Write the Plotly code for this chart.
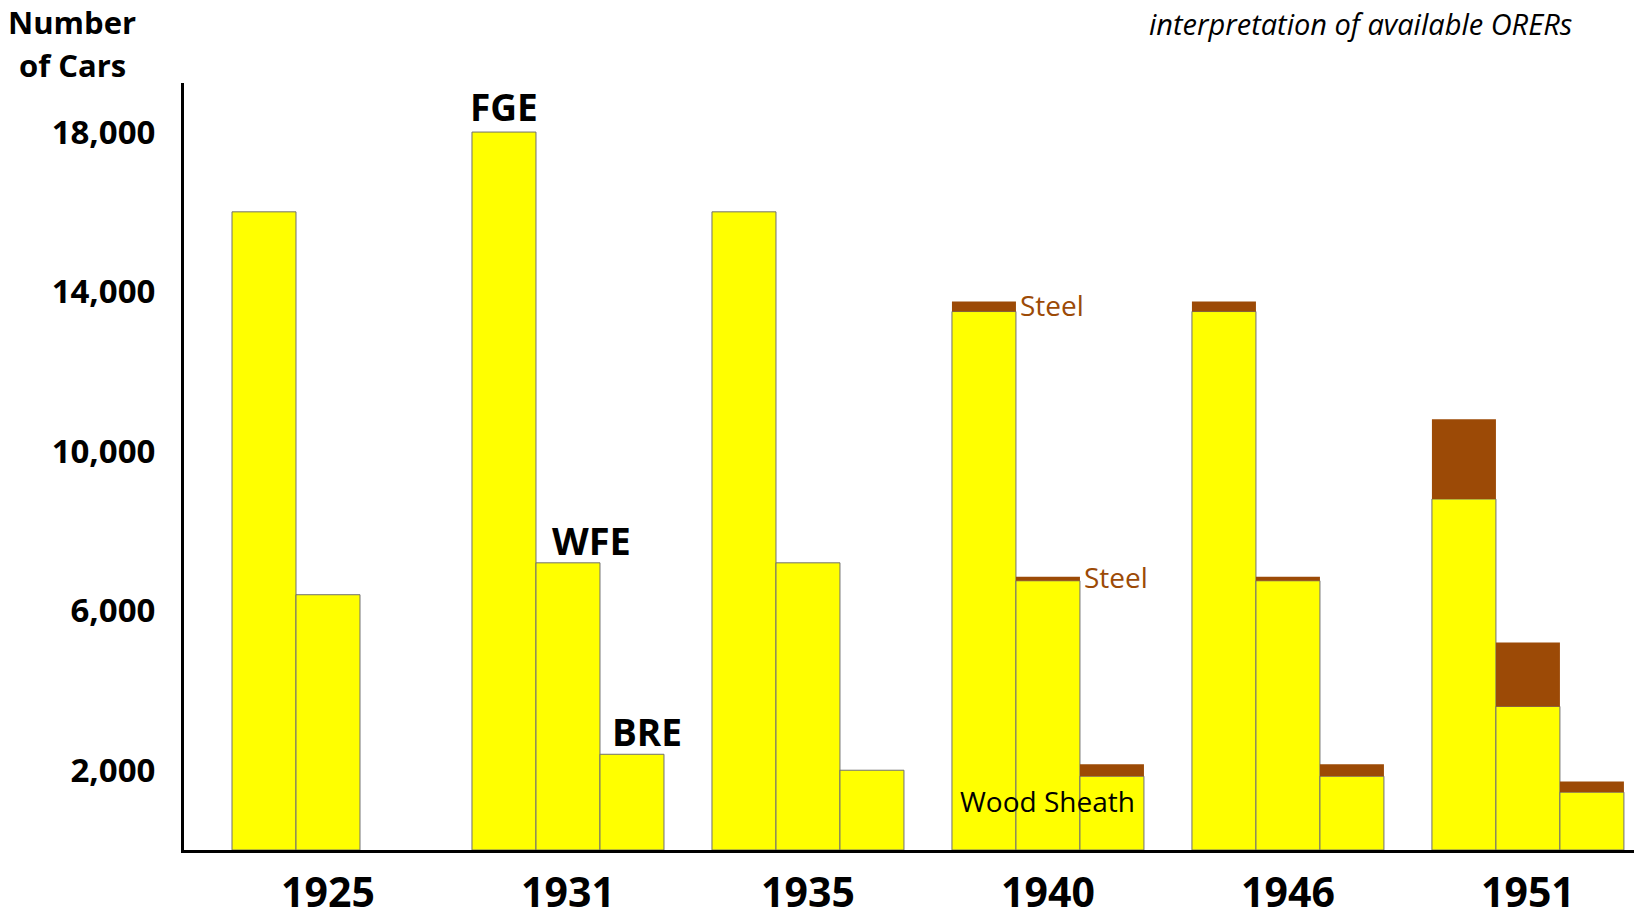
import plotly.graph_objects as go

years = ["1925", "1931", "1935", "1940", "1946", "1951"]
series = ["FGE", "WFE", "BRE"]
wood = {
    "FGE": [16000, 18000, 16000, 13500, 13500, 8800],
    "WFE": [6400, 7200, 7200, 6750, 6750, 3600],
    "BRE": [None, 2400, 2000, 1850, 1850, 1450],
}
steel = {
    "FGE": [None, None, None, 250, 250, 2000],
    "WFE": [None, None, None, 100, 100, 1600],
    "BRE": [None, None, None, 300, 300, 270],
}
y_ticks = [2000, 6000, 10000, 14000, 18000]

WOOD_COLOR = "#FFFF00"
STEEL_COLOR = "#9C4A06"
FONT = "Open Sans"

fig = go.Figure()
for s in series:
    fig.add_trace(go.Bar(
        x=years, y=wood[s], name=s + " wood", offsetgroup=s,
        marker=dict(color=WOOD_COLOR, line=dict(color="#707070", width=1)),
        hoverinfo="x+y",
    ))
    fig.add_trace(go.Bar(
        x=years, y=steel[s], base=wood[s], name=s + " steel", offsetgroup=s,
        marker=dict(color=STEEL_COLOR, line=dict(width=0)),
        hoverinfo="x+y",
    ))

# page body has an 8px default margin, so the figure is offset by 8px
fig.update_layout(
    width=1634, height=908,
    margin=dict(l=176, r=2, t=75, b=66, autoexpand=False),
    paper_bgcolor="white", plot_bgcolor="white",
    barmode="group", bargap=0.2, bargroupgap=0,
    showlegend=False,
    font=dict(family=FONT, color="black"),
)
fig.update_xaxes(
    type="category", range=[-0.6, 5.467], automargin=False,
    showline=True, linecolor="black", linewidth=3,
    showgrid=False, zeroline=False, ticks="",
    tickfont=dict(family=FONT, size=41, weight="bold", color="black"),
    ticklabelstandoff=5,
)
fig.update_yaxes(
    range=[0, 19230], automargin=False,
    showline=True, linecolor="black", linewidth=3,
    showgrid=False, zeroline=False, ticks="",
    tickvals=y_ticks, tickformat=",d",
    tickfont=dict(family=FONT, size=33, weight="bold", color="black"),
    ticklabelstandoff=19,
)

def ann(text, x, y, size, color="black", bold=False, italic=False, xanchor="center", xref="x", yref="y"):
    fig.add_annotation(
        text=text, x=x, y=y, xref=xref, yref=yref, showarrow=False,
        xanchor=xanchor, yanchor="middle", borderpad=0,
        font=dict(family=FONT, size=size, color=color,
                  weight="bold" if bold else "normal",
                  style="italic" if italic else "normal"),
    )

ann("FGE", 0.733, 18650, 37, bold=True)
ann("WFE", 1.096, 7770, 38, bold=True)
ann("BRE", 1.329, 2960, 37, bold=True)
ann("Steel", 2.879, 13660, 28, color=STEEL_COLOR, xanchor="left")
ann("Steel", 3.145, 6844, 28, color=STEEL_COLOR, xanchor="left")
ann("Wood Sheath", 3.0, 1228, 28)
ann("Number", -0.0769, 1.0800, 31, bold=True, xref="paper", yref="paper")
ann("of Cars", -0.0769, 1.0240, 31, bold=True, xref="paper", yref="paper")
ann("interpretation of available ORERs", 0.808, 1.0780, 29, italic=True, xref="paper", yref="paper")

fig.write_html("out.html")
